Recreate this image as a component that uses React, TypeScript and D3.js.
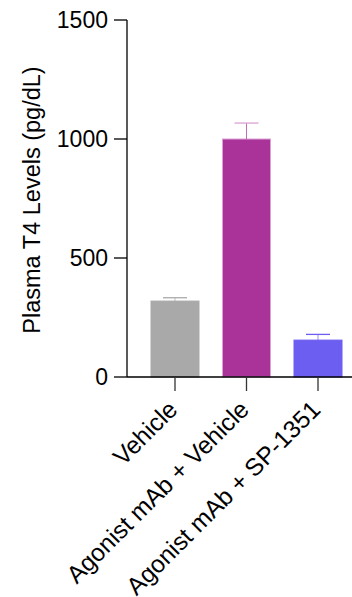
import React from "react";
import * as d3 from "d3";

const categories = ["Vehicle", "Agonist mAb + Vehicle", "Agonist mAb + SP-1351"];
const means = [319, 1000, 155];
const errors = [14, 67, 24];
const colors = ["#a9a9a9", "#a93399", "#6c5ef1"];
const edgeColors = ["#a9a9a9", "#dba2d3", "#6c5ef1"];
const yTicks = [0, 500, 1000, 1500];

const W = 352;
const H = 597;
const FONT = "Arial, 'Liberation Sans', Helvetica, sans-serif";

export default function App() {
  const axisX = 127;
  const y = d3.scaleLinear().domain([0, 1500]).range([377, 20]);
  const x = d3.scalePoint<string>().domain(categories).range([175, 318]);
  const barW = 48;
  const capHalf = 12;

  return (
    <svg
      width={W}
      height={H}
      style={{ position: "absolute", left: 0, top: 0, background: "#fff" }}
      fontFamily={FONT}
    >
      {categories.map((c, i) => {
        const cx = x(c)!;
        const top = y(means[i]);
        const eTop = y(means[i] + errors[i]);
        return (
          <g key={c}>
            <rect
              x={cx - barW / 2}
              y={top}
              width={barW}
              height={y(0) - top}
              fill={colors[i]}
              stroke={edgeColors[i]}
              strokeWidth={1}
            />
            <line x1={cx} x2={cx} y1={top} y2={eTop} stroke={colors[i]} strokeWidth={1} opacity={0.7} />
            <line x1={cx - capHalf} x2={cx + capHalf} y1={eTop} y2={eTop} stroke={edgeColors[i]} strokeWidth={1.3} />
          </g>
        );
      })}

      <line x1={axisX} x2={axisX} y1={y(1500)} y2={y(0)} stroke="#000" strokeWidth={1.3} />
      {yTicks.map((t) => (
        <g key={t}>
          <line x1={axisX - 13} x2={axisX} y1={y(t)} y2={y(t)} stroke="#000" strokeWidth={1.3} />
          <text x={108} y={y(t)} dy="0.36em" textAnchor="end" fontSize={23} fill="#000">
            {t}
          </text>
        </g>
      ))}

      <line x1={axisX} x2={W} y1={y(0)} y2={y(0)} stroke="#000" strokeWidth={1.3} />
      {categories.map((c) => (
        <line key={c} x1={x(c)!} x2={x(c)!} y1={y(0)} y2={y(0) + 14} stroke="#333" strokeWidth={1.3} />
      ))}
      {categories.map((c) => (
        <text
          key={c}
          transform={`translate(${x(c)! + 4},${411}) rotate(-45)`}
          textAnchor="end"
          fontSize={24.5}
          fill="#000"
        >
          {c}
        </text>
      ))}

      <text transform={`translate(39.5,200) rotate(-90)`} textAnchor="middle" fontSize={23.5} fill="#000">
        Plasma T4 Levels (pg/dL)
      </text>
    </svg>
  );
}
